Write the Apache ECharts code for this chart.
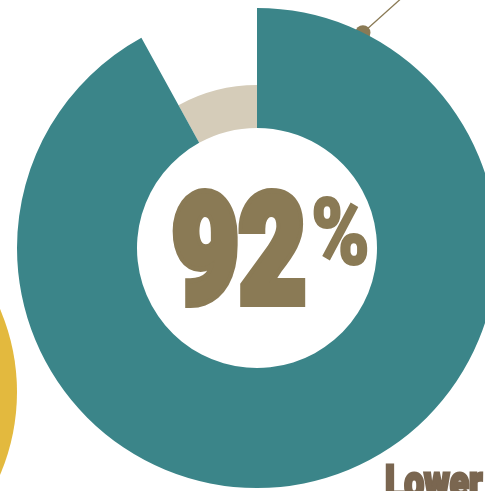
<!DOCTYPE html>
<html>
<head>
<meta charset="utf-8">
<script src="https://cdn.jsdelivr.net/npm/echarts@6/dist/echarts.min.js"></script>
<style>
  html, body { margin: 0; padding: 0; background: #ffffff; }
  #chart { width: 485px; height: 491px; }
</style>
</head>
<body>
<div id="chart"></div>
<script>
// Share of respondents: main slice vs remainder
const categories = ['Yes', 'No'];
const shares = [92, 8];
const captionText = 'Lower';

const TEAL = '#3b8589';
const SAND = '#d5ccb9';
const OLIVE = '#8a7a55';
const BROWN = '#7a6650';
const GOLD = '#e3b93e';

const cx = 257, cy = 248;
const rInner = 120, rOuterMain = 240, rOuterRest = 163;

const chart = echarts.init(document.getElementById('chart'), null, { renderer: 'canvas' });

const hidden = { color: 'rgba(0,0,0,0)' };

// Slice that sticks out (value 0), the shorter remainder (value 1)
const mainData = categories.map((c, i) => ({
  name: c, value: shares[i],
  itemStyle: i === 0 ? { color: TEAL } : hidden
}));
const restData = categories.map((c, i) => ({
  name: c, value: shares[i],
  itemStyle: i === 1 ? { color: SAND } : hidden
}));

// Leader marker on the outer rim of the main slice
const markAngle = (90 - 26.2) * Math.PI / 180;
const dotX = cx + rOuterMain * Math.cos(markAngle);
const dotY = cy - rOuterMain * Math.sin(markAngle);

const pct = String(shares[0]);

chart.setOption({
  animation: false,
  graphic: [
    { type: 'circle', z: -1, shape: { cx: -194, cy: 392, r: 211 }, style: { fill: GOLD } },
    { type: 'line', z: -1, shape: { x1: dotX, y1: dotY, x2: dotX + 38, y2: dotY - 34 }, style: { stroke: OLIVE, lineWidth: 1.3 } },
    { type: 'circle', z: -1, shape: { cx: dotX, cy: dotY, r: 7.5 }, style: { fill: OLIVE } },
    {
      type: 'text', z: 10, x: 172, y: 264, scaleX: 0.77,
      style: { text: pct, fill: OLIVE, stroke: OLIVE, lineWidth: 10, font: '900 150px Roboto', textAlign: 'left', textVerticalAlign: 'middle' }
    },
    {
      type: 'text', z: 10, x: 311, y: 241, scaleX: 0.86,
      style: { text: '%', fill: OLIVE, stroke: OLIVE, lineWidth: 2, font: '900 92px Roboto', textAlign: 'left', textVerticalAlign: 'middle' }
    },
    {
      type: 'text', z: 10, x: 385, y: 486, scaleX: 0.77,
      style: { text: captionText, fill: BROWN, stroke: BROWN, lineWidth: 3, font: '900 46px Roboto', textAlign: 'left', textVerticalAlign: 'middle' }
    }
  ],
  series: [
    {
      type: 'pie', z: 2,
      center: [cx, cy], radius: [rInner, rOuterRest],
      startAngle: 90, clockwise: true,
      silent: true, label: { show: false }, labelLine: { show: false },
      emphasis: { disabled: true },
      data: restData
    },
    {
      type: 'pie', z: 3,
      center: [cx, cy], radius: [rInner, rOuterMain],
      startAngle: 90, clockwise: true,
      silent: true, label: { show: false }, labelLine: { show: false },
      emphasis: { disabled: true },
      data: mainData
    }
  ]
});
</script>
</body>
</html>
